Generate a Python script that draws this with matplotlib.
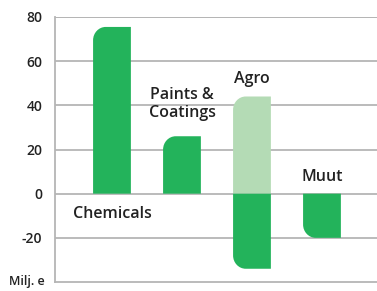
import matplotlib
matplotlib.use("Agg")
import matplotlib.pyplot as plt
from matplotlib.path import Path
from matplotlib.patches import PathPatch

categories = ["Chemicals", "Paints &\nCoatings", "Agro", "Muut"]
positive = [75.5, 26, 44, 0]
negative = [0, 0, -34, -20]
pos_colors = ["#23b35b", "#23b35b", "#b4dbb5", "#23b35b"]
neg_color = "#23b35b"
yticks = [-20, 0, 20, 40, 60, 80]

WIDTH = 0.54
RX = 0.18
RY = 6.0


def rounded_bar(ax, x, value, color):
    """Bar with rounded outer-left corner."""
    if value == 0:
        return
    left, right = x - WIDTH / 2, x + WIDTH / 2
    s = 1 if value > 0 else -1
    ry = min(RY, abs(value)) * s
    k = 0.55
    verts = [
        (left, 0),
        (left, value - ry),
        (left, value - ry + ry * k),
        (left + RX - RX * k, value),
        (left + RX, value),
        (right, value),
        (right, 0),
        (left, 0),
    ]
    codes = [Path.MOVETO, Path.LINETO, Path.CURVE4, Path.CURVE4, Path.CURVE4,
             Path.LINETO, Path.LINETO, Path.CLOSEPOLY]
    ax.add_patch(PathPatch(Path(verts, codes), facecolor=color, edgecolor="none", zorder=3))


plt.rcParams["font.family"] = ["Open Sans", "DejaVu Sans"]

fig = plt.figure(figsize=(3.77, 2.91), dpi=100)
ax = fig.add_axes([55 / 377, 9 / 291, 322 / 377, 265 / 291])

for i, (p, n) in enumerate(zip(positive, negative)):
    rounded_bar(ax, i, p, pos_colors[i])
    rounded_bar(ax, i, n, neg_color)

ax.set_xlim(-0.814, 3.786)
ax.set_ylim(-40, 80)
ax.set_yticks(yticks)
ax.set_yticklabels([str(t) for t in yticks], fontsize=10, fontweight="semibold", color="#222222")
ax.tick_params(axis="y", length=0, pad=9)
ax.set_xticks([])
for t in yticks + [80]:
    ax.axhline(t, color="#b5b5b5", lw=1.3, zorder=1)

for side in ["top", "right"]:
    ax.spines[side].set_visible(False)
for side in ["left", "bottom"]:
    ax.spines[side].set_color("#b5b5b5")
    ax.spines[side].set_linewidth(1.3)

label_style = dict(fontsize=11.5, fontweight="semibold", color="#222222", ha="center", va="center")
ax.text(0, -9, categories[0], **label_style)
ax.text(1, 40.5, categories[1], linespacing=1.15, **label_style)
ax.text(2, 52, categories[2], **label_style)
ax.text(3, 7.5, categories[3], **label_style)

fig.text(9 / 377, 1 - 282 / 291, "Milj. e", fontsize=9, fontweight="semibold",
         color="#222222", ha="left", va="center")

fig.savefig("out.png", dpi=100)
